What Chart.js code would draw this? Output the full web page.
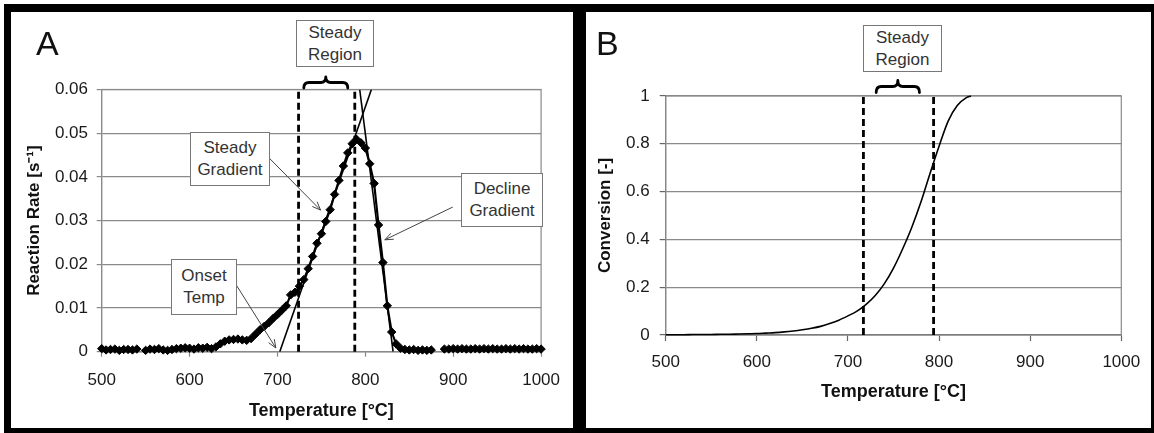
<!DOCTYPE html>
<html><head><meta charset="utf-8">
<script src="https://cdn.jsdelivr.net/npm/chart.js@4.4.1/dist/chart.umd.min.js"></script>
<style>
html,body{margin:0;padding:0;background:#fff;width:1154px;height:433px;overflow:hidden;font-family:"Liberation Sans",Arial,sans-serif;}
#frame{position:absolute;left:4px;top:4px;width:1150px;height:429px;background:#000;}
.panel{position:absolute;background:#fff;}
#pA{left:11px;top:12px;width:562px;height:416px;}
#pB{left:586px;top:12px;width:565px;height:416px;}
.panel canvas{position:absolute;left:0;top:0;}
.lbl{position:absolute;font-size:34px;line-height:34px;color:#111;}
.box{position:absolute;box-sizing:border-box;border:1.5px solid #777;background:#fff;color:#333;font-size:17px;line-height:22px;text-align:center;display:flex;flex-direction:column;justify-content:center;white-space:nowrap;}
</style></head><body>
<div id="frame"></div>
<div class="panel" id="pA"><canvas id="cA" width="562" height="416"></canvas></div>
<div class="panel" id="pB"><canvas id="cB" width="565" height="416"></canvas></div>
<div class="lbl" style="left:36px;top:26px;">A</div>
<div class="lbl" style="left:596px;top:26px;">B</div>
<div class="box" style="left:296px;top:20px;width:78px;height:47px;"><span>Steady</span><span>Region</span></div>
<div class="box" style="left:190px;top:132px;width:80px;height:54px;"><span>Steady</span><span>Gradient</span></div>
<div class="box" style="left:461px;top:173px;width:82px;height:54px;"><span>Decline</span><span>Gradient</span></div>
<div class="box" style="left:171px;top:259px;width:66px;height:56px;"><span>Onset</span><span>Temp</span></div>
<div class="box" style="left:863px;top:25px;width:79px;height:47px;"><span>Steady</span><span>Region</span></div>
<script>
// ---------- data ----------
const tempsA = Array.from({length:101}, (_, i) => 500 + 5*i);
const rateA = [
 0.0007,0.0004,0.0005,0.0006,0.0003,0.0005,0.0005,0.0004,0.0006,null,
 0.0003,0.0006,0.0005,0.0007,0.0004,0.0003,0.0005,0.0007,0.0008,0.0009,
 0.0008,0.0006,0.0009,0.0008,0.0010,0.0007,0.0011,0.0018,0.0024,0.0027,
 0.0028,0.0029,0.0027,0.0026,0.0030,0.0040,0.0050,0.0058,0.0066,0.0076,
 0.0085,0.0095,0.0105,0.0130,0.0136,0.0150,0.0165,0.0190,0.0218,0.0248,
 0.0270,0.0298,0.0325,0.0360,0.0392,0.0425,0.0455,0.0476,0.0486,0.0478,
 0.0466,0.0430,0.0385,0.0290,0.0204,0.0105,0.0045,0.0018,0.0008,0.0005,
 0.0004,0.0005,0.0003,0.0004,0.0003,0.0004,null,null,0.0006,0.0006,
 0.0007,0.0006,0.0007,0.0006,0.0006,0.0007,0.0006,0.0007,0.0006,0.0007,
 0.0006,0.0006,0.0007,0.0006,0.0007,0.0006,0.0007,0.0006,0.0006,0.0007,
 0.0006
];
const steadyLineT = [702.6, 806.9];
const steadyLineR = [0, 0.06];
const declineLineT = [793.6, 831.6];
const declineLineR = [0.06, 0];
const dashA = [724, 788];
const braceA = [730, 780];
// arrows: [fromT, fromR, toT, toR]
const arrowsA = [
 [683.8, 0.0457, 749.1, 0.0324],
 [899.5, 0.0331, 822.2, 0.0256],
 [649.6, 0.0164, 698.2, 0.00085]
];
const tempsB = [500,510,520,530,540,550,560,570,580,590,600,610,620,630,640,650,660,670,680,690,700,710,720,730,740,750,760,770,780,790,800,810,820,830,835];
const convB = [0.001,0.001,0.001,0.002,0.002,0.002,0.003,0.003,0.004,0.005,0.006,0.008,0.010,0.013,0.017,0.022,0.028,0.036,0.048,0.062,0.080,0.100,0.128,0.165,0.215,0.280,0.360,0.450,0.555,0.675,0.790,0.895,0.960,0.993,1.000];
const dashB = [717, 794];
const braceB = [731, 778.5];
const xTicks = [500,600,700,800,900,1000];

// ---------- helpers ----------
Chart.defaults.font.family = '"Liberation Sans", Arial, sans-serif';
Chart.defaults.color = '#1a1a1a';
const pts = (xs, ys) => xs.map((x, i) => ({x, y: ys[i]}));

function drawArrow(ctx, x1, y1, x2, y2){
  ctx.save(); ctx.strokeStyle = '#444'; ctx.lineWidth = 1;
  ctx.beginPath(); ctx.moveTo(x1, y1); ctx.lineTo(x2, y2); ctx.stroke();
  const a = Math.atan2(y2 - y1, x2 - x1), L = 9, w = 0.38;
  ctx.beginPath();
  ctx.moveTo(x2 - L*Math.cos(a - w), y2 - L*Math.sin(a - w));
  ctx.lineTo(x2, y2);
  ctx.lineTo(x2 - L*Math.cos(a + w), y2 - L*Math.sin(a + w));
  ctx.stroke(); ctx.restore();
}
function drawBrace(ctx, x1, x2, yTop, h){
  const xm = (x1 + x2)/2, ym = yTop + h*0.5, r = 5;
  ctx.save(); ctx.strokeStyle = '#000'; ctx.lineWidth = 2.8; ctx.lineCap = 'round'; ctx.lineJoin = 'round';
  ctx.beginPath();
  ctx.moveTo(x1, yTop + h);
  ctx.quadraticCurveTo(x1, ym, x1 + r, ym);
  ctx.lineTo(xm - r, ym);
  ctx.quadraticCurveTo(xm, ym, xm, yTop);
  ctx.quadraticCurveTo(xm, ym, xm + r, ym);
  ctx.lineTo(x2 - r, ym);
  ctx.quadraticCurveTo(x2, ym, x2, yTop + h);
  ctx.stroke(); ctx.restore();
}
function frameBorder(chart){
  const {ctx, chartArea: a} = chart;
  ctx.save(); ctx.strokeStyle = '#8a8a8a'; ctx.lineWidth = 1.2;
  ctx.strokeRect(a.left, a.top, a.right - a.left, a.bottom - a.top); ctx.restore();
}
function vDash(ts, ymax){
  return ts.map(t => ({data: [{x: t, y: 0}, {x: t, y: ymax}], showLine: true, borderColor: '#000',
    borderWidth: 2.8, borderDash: [7, 4], pointRadius: 0, clip: false}));
}
function xScale(h, pad, titlePadBottom, tl, tc){
  return {type: 'linear', min: 500, max: 1000,
    afterBuildTicks: s => { s.ticks = xTicks.map(v => ({value: v})); },
    afterFit: s => { s.height = h; },
    ticks: {padding: pad, maxRotation: 0, font: {size: 17}, color: '#1a1a1a', callback: v => String(v)},
    grid: {drawOnChartArea: false, tickLength: tl, tickColor: tc, tickWidth: 1.2},
    border: {color: tc, width: 1.2},
    title: {display: true, text: 'Temperature [°C]', color: '#111', font: {size: 18, weight: 'bold'}, padding: {top: 0, bottom: titlePadBottom}}
  };
}

// ---------- chart A ----------
new Chart(document.getElementById('cA'), {
  type: 'scatter',
  data: {datasets: [
    {data: pts(tempsA, rateA), showLine: true, spanGaps: false, borderColor: '#000', borderWidth: 2.2,
     pointStyle: 'rectRot', pointRadius: 4.2, pointBackgroundColor: '#000', pointBorderColor: '#000', pointBorderWidth: 1, clip: 8},
    {data: pts(steadyLineT, steadyLineR), showLine: true, borderColor: '#000', borderWidth: 1.6, pointRadius: 0},
    {data: pts(declineLineT, declineLineR), showLine: true, borderColor: '#000', borderWidth: 1.6, pointRadius: 0},
    ...vDash(dashA, 0.06)
  ]},
  options: {
    responsive: false, animation: false, events: [],
    layout: {padding: {left: 0, right: 19, top: 77.5, bottom: 0}},
    plugins: {legend: {display: false}, tooltip: {enabled: false}},
    scales: {
      x: xScale(76.3, 13, 6, 5, '#888'),
      y: {min: 0, max: 0.06,
        afterFit: s => { s.width = 90.7; },
        ticks: {stepSize: 0.01, padding: 8.7, font: {size: 17}, color: '#1a1a1a',
          callback: v => String(Math.round(v*100)/100)},
        grid: {color: '#8a8a8a', lineWidth: 1.2, tickLength: 5},
        border: {color: '#999', width: 1.2},
        title: {display: true, text: 'Reaction Rate [s\u207B\u00B9]', color: '#111', font: {size: 17, weight: 'bold'}, padding: {top: 12.8, bottom: 0}}
      }
    }
  },
  plugins: [{
    id: 'annA',
    beforeDatasetsDraw: frameBorder,
    afterDraw(chart){
      const x = chart.scales.x, y = chart.scales.y, ctx = chart.ctx;
      arrowsA.forEach(a => drawArrow(ctx, x.getPixelForValue(a[0]), y.getPixelForValue(a[1]), x.getPixelForValue(a[2]), y.getPixelForValue(a[3])));
      drawBrace(ctx, x.getPixelForValue(braceA[0]), x.getPixelForValue(braceA[1]), chart.chartArea.top - 12.5, 11);
    }
  }]
});

// ---------- chart B ----------
new Chart(document.getElementById('cB'), {
  type: 'scatter',
  data: {datasets: [
    {data: pts(tempsB, convB), showLine: true, borderColor: '#000', borderWidth: 1.6, pointRadius: 0,
     cubicInterpolationMode: 'monotone', clip: 4},
    ...vDash(dashB, 1)
  ]},
  options: {
    responsive: false, animation: false, events: [],
    layout: {padding: {left: 0, right: 23, top: 84, bottom: 0}},
    plugins: {legend: {display: false}, tooltip: {enabled: false}},
    scales: {
      x: xScale(93, 10.8, 24.8, 6, '#666'),
      y: {min: 0, max: 1,
        afterFit: s => { s.width = 79.7; },
        ticks: {stepSize: 0.2, padding: 10, font: {size: 17}, color: '#1a1a1a',
          callback: v => String(Math.round(v*10)/10)},
        grid: {color: '#8a8a8a', lineWidth: 1.2, tickLength: 6, tickColor: '#666'},
        border: {color: '#666', width: 1.2},
        title: {display: true, text: 'Conversion [-]', color: '#111', font: {size: 17, weight: 'bold'}, padding: {top: 9.4, bottom: 0}}
      }
    }
  },
  plugins: [{
    id: 'annB',
    beforeDatasetsDraw: frameBorder,
    afterDraw(chart){
      const x = chart.scales.x;
      drawBrace(chart.ctx, x.getPixelForValue(braceB[0]), x.getPixelForValue(braceB[1]), chart.chartArea.top - 15.5, 12);
    }
  }]
});
</script>
</body></html>
